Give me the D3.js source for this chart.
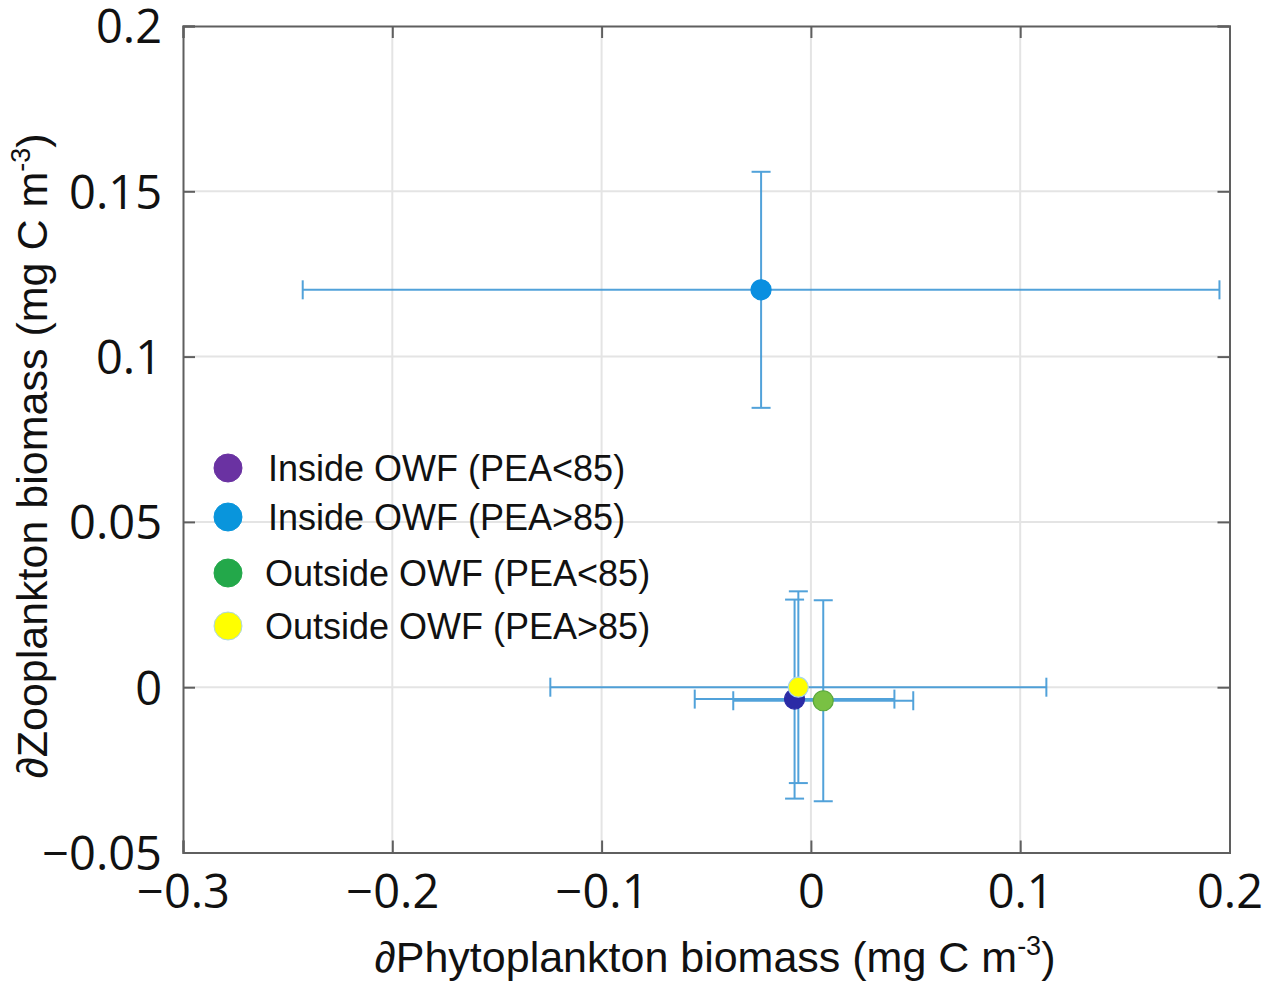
<!DOCTYPE html>
<html>
<head>
<meta charset="utf-8">
<script src="https://cdn.jsdelivr.net/npm/d3@7"></script>
<style>
  html, body { margin: 0; padding: 0; background: #fff; }
  svg { display: block; }
</style>
</head>
<body>
<svg id="chart" width="1273" height="983"></svg>
<script>
// ---- data ----
const seriesNames = ["Inside OWF (PEA<85)", "Inside OWF (PEA>85)", "Outside OWF (PEA<85)", "Outside OWF (PEA>85)"];
const phyto    = [-0.0078, -0.0238, 0.0059, -0.0060];
const zoo      = [-0.0036, 0.1202, -0.0041, 0.0000];
const phytoErr = [0.0477, 0.2190, 0.0430, 0.1185];
const zooErr   = [0.0301, 0.0357, 0.0304, 0.0290];
const pointColors  = ["#2b2ba6", "#0a8fe0", "#79c143", "#ffff00"];
const pointStroke  = ["#2b2ba6", "#0a8fe0", "#5aa83a", "#a9d6e8"];
const legendColors = ["#6a32a2", "#0995dc", "#23a84a", "#ffff00"];
const xTicks = [-0.3, -0.2, -0.1, 0, 0.1, 0.2];
const xTickLabels = ["\u22120.3", "\u22120.2", "\u22120.1", "0", "0.1", "0.2"];
const yTicks = [-0.05, 0, 0.05, 0.1, 0.15, 0.2];
const yTickLabels = ["\u22120.05", "0", "0.05", "0.1", "0.15", "0.2"];

// ---- layout ----
const L = 183, R = 1229.5, T = 26, B = 852.5;
const svg = d3.select("#chart");
const x = d3.scaleLinear().domain([-0.3, 0.2]).range([L, R]);
const y = d3.scaleLinear().domain([-0.05, 0.2]).range([B, T]);

const gridColor = "#e4e4e4";
const axisColor = "#5f5f5f";
const errColor = "#3f98d6";

// grid
const grid = svg.append("g");
grid.selectAll("line.gx").data(xTicks.slice(1, -1)).enter().append("line")
  .attr("x1", d => x(d)).attr("x2", d => x(d)).attr("y1", T).attr("y2", B)
  .attr("stroke", gridColor).attr("stroke-width", 2);
grid.selectAll("line.gy").data(yTicks.slice(1, -1)).enter().append("line")
  .attr("y1", d => y(d)).attr("y2", d => y(d)).attr("x1", L).attr("x2", R)
  .attr("stroke", gridColor).attr("stroke-width", 2);

// axes (ticks inside)
const tickFont = "'Open Sans', 'DejaVu Sans', sans-serif";
const xAxis = d3.axisBottom(x).tickValues(xTicks).tickSize(-12).tickPadding(36)
  .tickFormat((d, i) => xTickLabels[i]);
const gx = svg.append("g").attr("transform", `translate(0,${B})`).call(xAxis);
const yAxis = d3.axisLeft(y).tickValues(yTicks).tickSize(-12).tickPadding(21)
  .tickFormat((d, i) => yTickLabels[i]);
const gy = svg.append("g").attr("transform", `translate(${L},0)`).call(yAxis);
const gxTop = svg.append("g").attr("transform", `translate(0,${T})`)
  .call(d3.axisTop(x).tickValues(xTicks).tickSize(-12).tickFormat(""));
const gyR = svg.append("g").attr("transform", `translate(${R},0)`)
  .call(d3.axisRight(y).tickValues(yTicks).tickSize(-12).tickFormat(""));
[gx, gy, gxTop, gyR].forEach(g => {
  g.select(".domain").attr("stroke", axisColor).attr("stroke-width", 2);
  g.selectAll(".tick line").attr("stroke", axisColor).attr("stroke-width", 2);
  g.selectAll("text").attr("font-family", tickFont).attr("font-size", 47).attr("fill", "#111");
});
gx.selectAll(".tick text").attr("dy", "0.42em");
gy.selectAll(".tick text").attr("dy", "0.36em");

// axis labels
const labFont = "'Liberation Sans', Arial, sans-serif";
const xl = svg.append("text").attr("x", 715).attr("y", 972).attr("text-anchor", "middle")
  .attr("font-family", labFont).attr("font-size", 43).attr("fill", "#111");
xl.append("tspan").attr("font-style", "italic").text("\u2202");
xl.append("tspan").text("Phytoplankton biomass (mg C m");
xl.append("tspan").attr("font-size", 27).attr("dy", -17).text("-3");
xl.append("tspan").attr("dy", 17).text(")");

const yl = svg.append("text").attr("transform", "translate(47,456) rotate(-90)")
  .attr("text-anchor", "middle")
  .attr("font-family", labFont).attr("font-size", 43).attr("fill", "#111");
yl.append("tspan").attr("font-style", "italic").text("\u2202");
yl.append("tspan").text("Zooplankton biomass (mg C m");
yl.append("tspan").attr("font-size", 27).attr("dy", -17).text("-3");
yl.append("tspan").attr("dy", 17).text(")");

// error bars
const idx = d3.range(seriesNames.length);
const cap = 9.5;
const eb = svg.append("g").attr("stroke", errColor).attr("stroke-width", 2).attr("fill", "none").attr("opacity", 0.9);
idx.forEach(i => {
  const cx = x(phyto[i]), cy = y(zoo[i]);
  const x0 = x(phyto[i] - phytoErr[i]), x1 = x(phyto[i] + phytoErr[i]);
  const y0 = y(zoo[i] - zooErr[i]), y1 = y(zoo[i] + zooErr[i]);
  eb.append("line").attr("x1", x0).attr("x2", x1).attr("y1", cy).attr("y2", cy);
  eb.append("line").attr("x1", x0).attr("x2", x0).attr("y1", cy - cap).attr("y2", cy + cap);
  eb.append("line").attr("x1", x1).attr("x2", x1).attr("y1", cy - cap).attr("y2", cy + cap);
  eb.append("line").attr("x1", cx).attr("x2", cx).attr("y1", y0).attr("y2", y1);
  eb.append("line").attr("x1", cx - cap).attr("x2", cx + cap).attr("y1", y0).attr("y2", y0);
  eb.append("line").attr("x1", cx - cap).attr("x2", cx + cap).attr("y1", y1).attr("y2", y1);
});

// points
svg.append("g").selectAll("circle").data(idx).enter().append("circle")
  .attr("cx", i => x(phyto[i])).attr("cy", i => y(zoo[i])).attr("r", 10)
  .attr("fill", i => pointColors[i]).attr("stroke", i => pointStroke[i]).attr("stroke-width", 1.2);

// legend
const legY = [468, 517, 573, 626];
const legTextX = [268, 268, 265, 265];
const leg = svg.append("g");
idx.forEach(i => {
  leg.append("circle").attr("cx", 228).attr("cy", legY[i]).attr("r", 14)
    .attr("fill", legendColors[i]).attr("stroke", i === 3 ? "#a9d6e8" : legendColors[i]).attr("stroke-width", 1);
  leg.append("text").attr("x", legTextX[i]).attr("y", legY[i]).attr("dy", "0.36em")
    .attr("font-family", labFont).attr("font-size", 36).attr("fill", "#111").text(seriesNames[i]);
});
</script>
</body>
</html>
